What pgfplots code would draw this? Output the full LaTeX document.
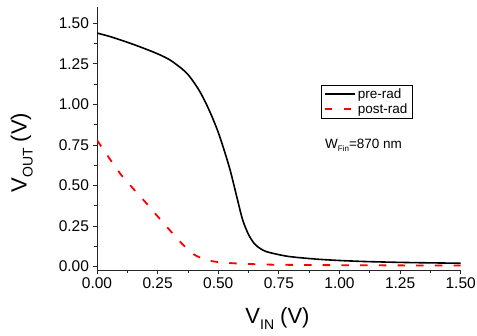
\documentclass[border=0pt]{standalone}
\usepackage{pgfplots}
\pgfplotsset{compat=1.18}
\usepackage{fontspec}
\setmainfont{Liberation Sans}
\begin{document}
\begin{tikzpicture}[x=1bp,y=1bp]
\path[use as bounding box] (0,0) rectangle (477,335);
\begin{axis}[
  at={(97bp,65.1bp)}, anchor=south west,
  scale only axis, width=363.7bp, height=262.8bp,
  xmin=0, xmax=1.5, ymin=-0.02, ymax=1.6,
  axis lines=left,
  axis line style={-, line width=0.8bp, black!85},
  xtick={0,0.25,0.5,0.75,1,1.25,1.5},
  ytick={0,0.25,0.5,0.75,1,1.25,1.5},
  minor tick num=1,
  tick align=outside,
  major tick length=4.5bp, minor tick length=2.8bp,
  tick style={line width=0.8bp, black!85},
  /pgf/number format/.cd, fixed, fixed zerofill, precision=2, assume math mode=true,
  /pgfplots/.cd,
  tick label style={font=\fontsize{15.5bp}{16bp}\selectfont},
  xlabel={V\raisebox{-6bp}{\fontsize{14bp}{14bp}\selectfont IN} (V)},
  ylabel={V\raisebox{-6bp}{\fontsize{14bp}{14bp}\selectfont OUT} (V)},
  label style={font=\fontsize{22bp}{24bp}\selectfont, inner sep=0pt},
  xlabel style={at={(axis description cs:0.4963,-0.2032)}, anchor=base},
  ylabel style={at={(axis description cs:-0.1933,0.4467)}, anchor=base},
  legend style={at={(axis description cs:0.615,0.7036)}, anchor=north west,
    draw=black, line width=0.6bp, font=\fontsize{13.5bp}{15bp}\selectfont,
    inner xsep=3bp, inner ysep=1bp, row sep=0bp},
  legend cell align=left,
  legend image code/.code={\draw[#1] (0bp,0bp) -- (30bp,0bp);},
]
\addplot[black, line width=1.6bp, smooth, tension=0.5] coordinates {
(0,1.44) (0.05,1.42) (0.10,1.396) (0.15,1.37) (0.20,1.342) (0.25,1.312)
(0.30,1.275) (0.35,1.22) (0.375,1.185) (0.40,1.135) (0.425,1.077)
(0.45,1.005) (0.475,0.922) (0.50,0.828) (0.525,0.715) (0.55,0.59)
(0.575,0.44) (0.60,0.292) (0.625,0.198) (0.65,0.14) (0.675,0.11)
(0.70,0.092) (0.75,0.074) (0.80,0.061) (0.90,0.047) (1.0,0.038)
(1.1,0.032) (1.2,0.028) (1.3,0.025) (1.4,0.023) (1.5,0.021)
};
\addlegendentry{pre-rad}
\addplot[red, line width=1.8bp, dash pattern=on 7.5bp off 11.2bp, smooth, tension=0.4] coordinates {
(0,0.78) (0.05,0.67) (0.10,0.565) (0.15,0.48) (0.20,0.397) (0.25,0.31)
(0.30,0.225) (0.35,0.142) (0.40,0.075) (0.45,0.042) (0.50,0.028)
(0.55,0.022) (0.60,0.018) (0.70,0.013) (0.80,0.011) (1.0,0.009)
(1.2,0.008) (1.5,0.007)
};
\addlegendentry{post-rad}
\node[anchor=base west, inner sep=0pt, font=\fontsize{13.5bp}{15bp}\selectfont]
  at (axis description cs:0.6269,0.4627)
  {W\raisebox{-3.5bp}{\fontsize{8bp}{8bp}\selectfont Fin}=870 nm};
\end{axis}
\end{tikzpicture}
\end{document}
